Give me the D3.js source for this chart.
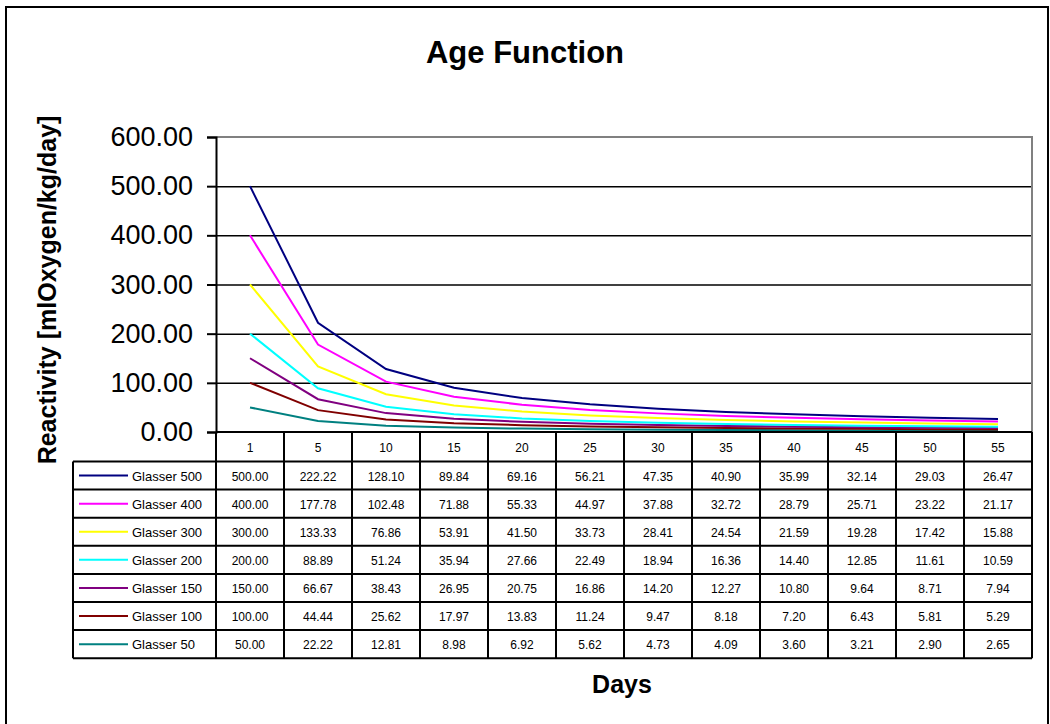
<!DOCTYPE html>
<html>
<head>
<meta charset="utf-8">
<script src="https://cdn.jsdelivr.net/npm/d3@7"></script>
<style>
    body { margin: 0; background: #fff; }
    text { font-family: Arial, "Liberation Sans", sans-serif; }
</style>
</head>
<body>
<div id="chart"></div>
<script>
// categories on the x axis
var days = ["1", "5", "10", "15", "20", "25", "30", "35", "40", "45", "50", "55"]

var seriesNames = ["Glasser 500", "Glasser 400", "Glasser 300", "Glasser 200", "Glasser 150", "Glasser 100", "Glasser 50"]
var seriesColors = ["#000080", "#ff00ff", "#ffff00", "#00ffff", "#800080", "#800000", "#008080"]

var glasser500 = [500.00, 222.22, 128.10, 89.84, 69.16, 56.21, 47.35, 40.90, 35.99, 32.14, 29.03, 26.47]
var glasser400 = [400.00, 177.78, 102.48, 71.88, 55.33, 44.97, 37.88, 32.72, 28.79, 25.71, 23.22, 21.17]
var glasser300 = [300.00, 133.33, 76.86, 53.91, 41.50, 33.73, 28.41, 24.54, 21.59, 19.28, 17.42, 15.88]
var glasser200 = [200.00, 88.89, 51.24, 35.94, 27.66, 22.49, 18.94, 16.36, 14.40, 12.85, 11.61, 10.59]
var glasser150 = [150.00, 66.67, 38.43, 26.95, 20.75, 16.86, 14.20, 12.27, 10.80, 9.64, 8.71, 7.94]
var glasser100 = [100.00, 44.44, 25.62, 17.97, 13.83, 11.24, 9.47, 8.18, 7.20, 6.43, 5.81, 5.29]
var glasser50 = [50.00, 22.22, 12.81, 8.98, 6.92, 5.62, 4.73, 4.09, 3.60, 3.21, 2.90, 2.65]

var yTicks = [0, 100, 200, 300, 400, 500, 600]

function init() {
    var w = 1050
    var h = 724
    var left = 216, right = 1032, top = 137, bottom = 432
    var rowH = 28.1
    var legendLeft = 73

    var allSeries = [glasser500, glasser400, glasser300, glasser200, glasser150, glasser100, glasser50]
    var series = seriesNames.map((name, i) => ({ name: name, color: seriesColors[i], values: allSeries[i] }))

    var svg = d3.select("#chart")
                .append("svg")
                .attr("width", w)
                .attr("height", h)

    // outer chart border
    svg.append("rect")
        .attr("x", 6).attr("y", 7)
        .attr("width", 1042).attr("height", 730)
        .attr("fill", "#fff")
        .attr("stroke", "#000")
        .attr("stroke-width", 2)

    svg.append("text")
        .text("Age Function")
        .attr("x", 525)
        .attr("y", 63)
        .attr("text-anchor", "middle")
        .style("font-size", "31px")
        .style("font-weight", "bold")

    var x = d3.scaleBand().domain(days).range([left, right])
    var y = d3.scaleLinear().domain([0, 600]).range([bottom, top])

    // gridlines
    svg.append("g")
        .attr("transform", `translate(${left},0)`)
        .call(d3.axisLeft(y).tickValues(yTicks.slice(1, -1)).tickSize(-(right - left)).tickFormat(""))
        .call(g => g.select(".domain").remove())
        .selectAll("line")
        .attr("stroke", "#000")
        .attr("stroke-width", 1.5)

    // plot border top / right
    svg.append("path")
        .attr("d", `M${left},${top}H${right}V${bottom}`)
        .attr("fill", "none")
        .attr("stroke", "#808080")
        .attr("stroke-width", 2)

    // y axis
    var yAxis = svg.append("g")
        .attr("transform", `translate(${left},0)`)
        .call(d3.axisLeft(y).tickValues(yTicks).tickFormat(d3.format(".2f")).tickSize(9).tickPadding(14))
    yAxis.select(".domain").attr("stroke", "#000").attr("stroke-width", 2)
    yAxis.selectAll("line").attr("stroke", "#000").attr("stroke-width", 2)
    yAxis.selectAll("text")
        .attr("fill", "#000")
        .style("font-size", "27px")
        .style("font-family", "Arial, 'Liberation Sans', sans-serif")

    svg.append("text")
        .text("Reactivity [mlOxygen/kg/day]")
        .attr("transform", "translate(56,290) rotate(-90)")
        .attr("text-anchor", "middle")
        .style("font-size", "25px")
        .style("font-weight", "bold")

    // series lines
    var line = d3.line()
        .x((d, i) => x(days[i]) + x.bandwidth() / 2)
        .y(d => y(d))

    svg.selectAll(".series")
        .data(series.slice().reverse())
        .enter()
        .append("path")
        .attr("class", "series")
        .attr("d", d => line(d.values))
        .attr("fill", "none")
        .attr("stroke", d => d.color)
        .attr("stroke-width", 2)

    // data table
    var tableTop = bottom + 29.5
    var tableBottom = tableTop + rowH * series.length
    var table = svg.append("g")

    // header row with day labels
    table.selectAll(".day")
        .data(days)
        .enter()
        .append("text")
        .text(d => d)
        .attr("x", d => x(d) + x.bandwidth() / 2)
        .attr("y", bottom + 20)
        .attr("text-anchor", "middle")
        .style("font-size", "12px")

    // row contents
    var rows = table.selectAll(".row")
        .data(series)
        .enter()
        .append("g")
        .attr("transform", (d, i) => `translate(0,${tableTop + i * rowH})`)

    rows.append("line")
        .attr("x1", legendLeft + 6).attr("x2", legendLeft + 55)
        .attr("y1", rowH / 2).attr("y2", rowH / 2)
        .attr("stroke", d => d.color)
        .attr("stroke-width", 2)

    rows.append("text")
        .text(d => d.name)
        .attr("x", legendLeft + 59)
        .attr("y", rowH / 2 + 5)
        .style("font-size", "13px")

    rows.selectAll(".val")
        .data(d => d.values)
        .enter()
        .append("text")
        .text(d => d3.format(".2f")(d))
        .attr("x", (d, i) => x(days[i]) + x.bandwidth() / 2)
        .attr("y", rowH / 2 + 5)
        .attr("text-anchor", "middle")
        .style("font-size", "12px")

    // table grid
    var grid = d3.path()
    days.forEach(d => {
        grid.moveTo(x(d), bottom)
        grid.lineTo(x(d), tableBottom)
    })
    grid.moveTo(right, bottom)
    grid.lineTo(right, tableBottom)
    grid.moveTo(left, bottom)
    grid.lineTo(right, bottom)
    for (var i = 0; i <= series.length; i++) {
        grid.moveTo(legendLeft, tableTop + i * rowH)
        grid.lineTo(right, tableTop + i * rowH)
    }
    grid.moveTo(legendLeft, tableTop)
    grid.lineTo(legendLeft, tableBottom)

    table.append("path")
        .attr("d", grid.toString())
        .attr("fill", "none")
        .attr("stroke", "#000")
        .attr("stroke-width", 2)

    svg.append("text")
        .text("Days")
        .attr("x", 622)
        .attr("y", 693)
        .attr("text-anchor", "middle")
        .style("font-size", "25px")
        .style("font-weight", "bold")
}

window.onload = init;
</script>
</body>
</html>
